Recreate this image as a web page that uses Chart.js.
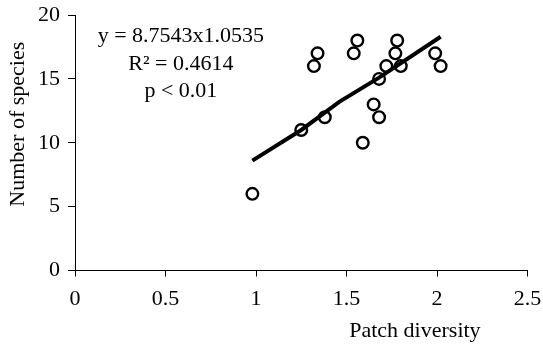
<!DOCTYPE html>
<html>
<head>
<meta charset="utf-8">
<script src="https://cdn.jsdelivr.net/npm/chart.js@4.4.0/dist/chart.umd.min.js"></script>
<style>
  html, body { margin: 0; padding: 0; background: #ffffff; }
  #wrap { width: 543px; height: 345px; }
</style>
</head>
<body>
<div id="wrap"><canvas id="c" width="543" height="345"></canvas></div>
<script>
// ---- data ----
const patchDiversity = [0.98, 1.25, 1.32, 1.34, 1.38, 1.54, 1.56, 1.59, 1.65, 1.68, 1.68, 1.72, 1.77, 1.78, 1.80, 1.99, 2.02];
const speciesCount   = [6,    11,   16,   17,   12,   17,   18,   10,   13,   12,   15,   16,   17,   18,   16,   17,   16];

const trendX = [0.98, 1.25, 1.46, 1.68, 2.02];
const trendY = [8.6, 11.0, 13.2, 15.1, 18.3];

const xTicks = [0, 0.5, 1, 1.5, 2, 2.5];
const yTicks = [0, 5, 10, 15, 20];

const xTitle = 'Patch diversity';
const yTitle = 'Number of species';
const annotationLines = ['y = 8.7543x1.0535', 'R\u00B2 = 0.4614', 'p < 0.01'];

// ---- chart ----
const FONT = '"Liberation Serif", "Times New Roman", serif';
const FS = 22;

const scatterPts = patchDiversity.map((x, i) => ({ x: x, y: speciesCount[i] }));
const trendPts = trendX.map((x, i) => ({ x: x, y: trendY[i] }));

const textPlugin = {
  id: 'texts',
  beforeInit(chart) {
    try { chart.ctx.letterSpacing = '0.8px'; } catch (e) {}
  },
  afterDraw(chart) {
    const ctx = chart.ctx;
    const xs = chart.scales.x, ys = chart.scales.y;
    const area = chart.chartArea;
    ctx.save();
    ctx.fillStyle = '#000';
    ctx.font = FS + 'px ' + FONT;
    ctx.textAlign = 'center';
    ctx.textBaseline = 'alphabetic';
    const cx = xs.getPixelForValue(0.585);
    const baseY = [17.9, 15.7, 13.55];
    annotationLines.forEach((t, i) => {
      ctx.fillText(t, cx, ys.getPixelForValue(baseY[i]));
    });
    ctx.textAlign = 'center';
    ctx.fillText(xTitle, xs.getPixelForValue(1.878), area.bottom + 66.5);
    ctx.translate(18, ys.getPixelForValue(11.45));
    ctx.rotate(-Math.PI / 2);
    ctx.textAlign = 'center';
    ctx.textBaseline = 'middle';
    ctx.fillText(yTitle, 0, 0);
    ctx.restore();
  }
};

new Chart(document.getElementById('c'), {
  type: 'scatter',
  data: {
    datasets: [
      {
        type: 'line',
        label: 'trend',
        data: trendPts,
        borderColor: '#000',
        borderWidth: 4,
        pointRadius: 0,
        fill: false,
        tension: 0,
        order: 0
      },
      {
        label: 'species',
        data: scatterPts,
        pointRadius: 5.8,
        pointBorderWidth: 2.4,
        pointBackgroundColor: '#fff',
        pointBorderColor: '#000',
        order: 1
      }
    ]
  },
  options: {
    responsive: false,
    animation: false,
    devicePixelRatio: 1,
    layout: { padding: { left: 0, right: 15.5, top: 15, bottom: 0 } },
    plugins: { legend: { display: false }, tooltip: { enabled: false } },
    scales: {
      x: {
        type: 'linear',
        min: 0, max: 2.5,
        afterBuildTicks(scale) { scale.ticks = xTicks.map(v => ({ value: v })); },
        afterFit(scale) { scale.height = 74.5; scale.paddingLeft = 0; scale.paddingRight = 0; },
        grid: { display: true, drawOnChartArea: false, drawTicks: true, tickLength: 6, color: '#000', lineWidth: 1 },
        border: { display: true, color: '#000', width: 1 },
        ticks: { color: '#000', padding: 10, font: { family: FONT, size: FS }, maxRotation: 0,
                 callback: v => String(v) }
      },
      y: {
        type: 'linear',
        min: 0, max: 20,
        afterBuildTicks(scale) { scale.ticks = yTicks.map(v => ({ value: v })); },
        afterFit(scale) { scale.width = 75; scale.paddingTop = 0; scale.paddingBottom = 0; },
        grid: { display: true, drawOnChartArea: false, drawTicks: true, tickLength: 7, color: '#000', lineWidth: 1 },
        border: { display: true, color: '#000', width: 1 },
        ticks: { color: '#000', padding: 8, font: { family: FONT, size: FS },
                 callback: v => String(v) }
      }
    }
  },
  plugins: [textPlugin]
});
</script>
</body>
</html>
